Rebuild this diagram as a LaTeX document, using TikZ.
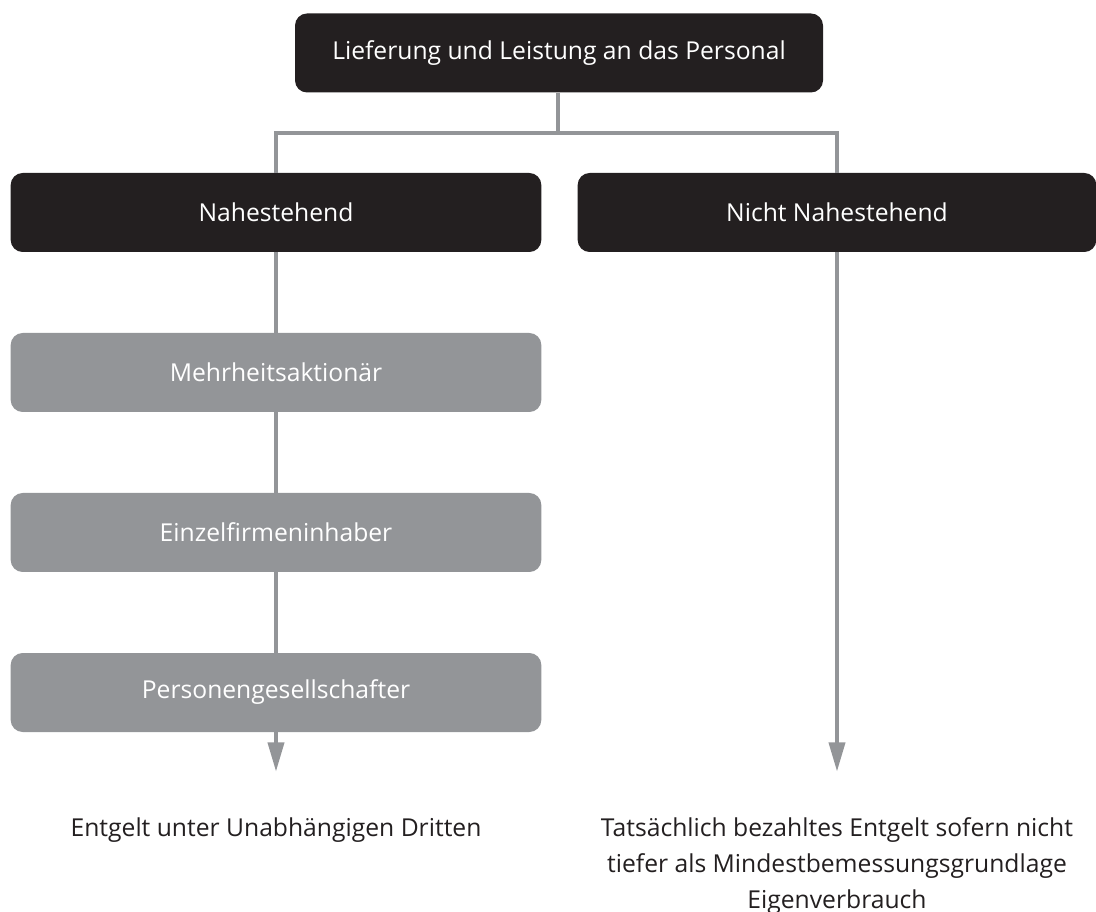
\documentclass[tikz,border=0pt]{standalone}
\usepackage{fontspec}
\setmainfont{Open Sans}
\usetikzlibrary{arrows.meta,positioning,calc}
\definecolor{boxdark}{HTML}{231F20}
\definecolor{boxgray}{HTML}{939598}
\definecolor{linegray}{HTML}{939598}

\begin{document}
\begin{tikzpicture}[x=0.75pt,y=-0.75pt,
  font=\fontsize{18.5}{27}\selectfont,
  head/.style={rounded corners=9pt,fill=boxdark,text=white,inner sep=0pt,minimum height=59.25pt},
  sub/.style={rounded corners=9pt,fill=boxgray,text=white,inner sep=0pt,minimum height=59.25pt,minimum width=398pt},
  conn/.style={draw=linegray,line width=3pt},
  res/.style={text=boxdark,align=center,anchor=north,inner sep=0pt}]
\useasboundingbox (0,0) rectangle (1096,912);

%% top and the two branches
\node[head,minimum width=396pt] (top) at (559,53) {Lieferung und Leistung an das Personal};
\node[head,minimum width=398pt] (near) at (276,212.5) {Nahestehend};
\node[head,minimum width=389pt] (far) at (837,212.5) {Nicht Nahestehend};
\coordinate (split) at (558,133);

%% related persons
\node[sub] (major) at (276,372.5) {Mehrheitsaktionär};
\node[sub] (sole) at (276,532.5) {Einzelfirmeninhaber};
\node[sub] (partner) at (276,692.5) {Personengesellschafter};

%% results
\node[res] (third) at (276,817) {Entgelt unter Unabhängigen Dritten};
\node[res] (paid) at (837,817) {Tatsächlich bezahltes Entgelt sofern nicht\\ tiefer als Mindestbemessungsgrundlage\\ Eigenverbrauch};

%% connectors
\draw[conn] (top.south -| split) -- (split);
\draw[conn] (near.north) |- (split) -| (far.north);
\draw[conn] (near.south) -- (major.north);
\draw[conn] (major.south) -- (sole.north);
\draw[conn] (sole.south) -- (partner.north);
\draw[conn,-{Triangle[length=22pt,width=12pt]},shorten >=34pt] (partner.south) -- (third.north);
\draw[conn,-{Triangle[length=22pt,width=12pt]},shorten >=34pt] (far.south) -- (paid.north);
\end{tikzpicture}
\end{document}
